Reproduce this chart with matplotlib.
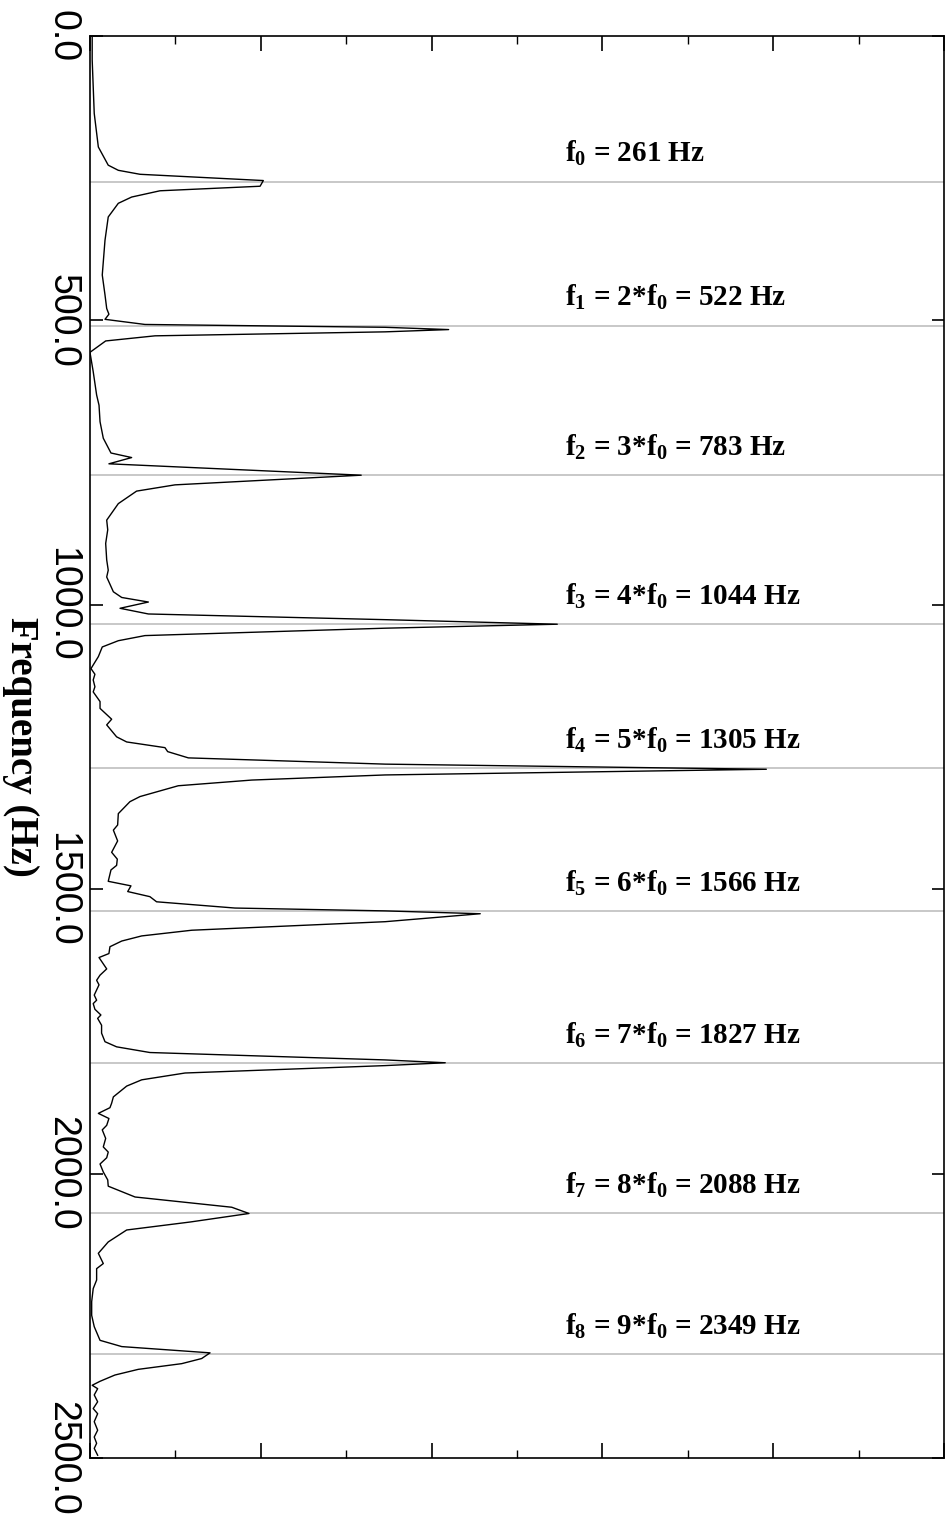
import matplotlib
matplotlib.use("Agg")
import matplotlib.pyplot as plt
from matplotlib.ticker import MultipleLocator

plt.rcParams["mathtext.default"] = "regular"

# spectrum: frequency (Hz) and magnitude (axis units 0..5)
freq_hz = [
    0, 42, 136, 195, 227, 236, 243, 254, 264, 272, 283, 294, 318, 359, 420,
    455, 479, 489, 498, 507, 512, 516, 520, 527, 536, 556, 590, 631, 649, 678,
    707, 733, 741, 752, 772, 789, 800, 822, 851, 868, 892, 921, 939, 951, 977,
    987, 995, 1006, 1016, 1026, 1034, 1041, 1054, 1063, 1074, 1091, 1112, 1122,
    1132, 1144, 1153, 1170, 1182, 1201, 1211, 1232, 1241, 1251, 1258, 1269,
    1280, 1289, 1299, 1308, 1318, 1337, 1346, 1367, 1387, 1396, 1415, 1435,
    1447, 1458, 1466, 1486, 1494, 1504, 1513, 1522, 1533, 1538, 1543, 1557,
    1572, 1582, 1591, 1601, 1613, 1620, 1640, 1651, 1660, 1668, 1686, 1695,
    1701, 1711, 1721, 1727, 1739, 1753, 1768, 1777, 1787, 1800, 1805, 1810,
    1823, 1835, 1846, 1865, 1876, 1884, 1894, 1903, 1915, 1923, 1938, 1953,
    1962, 1972, 1983, 1997, 2011, 2022, 2041, 2059, 2070, 2085, 2099, 2120,
    2140, 2158, 2167, 2187, 2202, 2225, 2249, 2269, 2293, 2304, 2315, 2325,
    2334, 2344, 2354, 2365, 2372, 2378, 2389, 2401, 2413, 2422, 2436, 2451,
    2463, 2474, 2483, 2495,
]
amplitude = [
    0.013, 0.013, 0.025, 0.049, 0.107, 0.166, 0.293, 1.015, 0.996, 0.410,
    0.244, 0.166, 0.107, 0.088, 0.072,
    0.088, 0.098, 0.111, 0.088, 0.322, 1.728, 2.100, 1.728, 0.381, 0.092,
    0.000, 0.019, 0.039, 0.053, 0.059,
    0.078, 0.123, 0.244, 0.111, 1.588, 0.498, 0.273, 0.166, 0.098, 0.104,
    0.092, 0.098, 0.107, 0.098, 0.137,
    0.186, 0.342, 0.176, 0.342, 1.728, 2.736, 1.728, 0.322, 0.166, 0.072,
    0.049, 0.006, 0.029,
    0.019, 0.029, 0.019, 0.059, 0.059, 0.127, 0.098, 0.156, 0.215, 0.439,
    0.455, 0.576,
    1.730, 3.960, 1.728, 0.947, 0.517, 0.293, 0.234, 0.166, 0.162, 0.137,
    0.162, 0.127,
    0.160, 0.156, 0.123, 0.107, 0.240, 0.221, 0.351, 0.390, 0.849, 1.728,
    2.285, 1.728,
    0.596, 0.303, 0.186, 0.117, 0.111, 0.053, 0.098, 0.059, 0.039, 0.053,
    0.025, 0.039,
    0.019, 0.029, 0.064, 0.045, 0.068, 0.068, 0.088, 0.156, 0.351, 1.728,
    2.080, 1.728,
    0.557, 0.303, 0.215, 0.137, 0.127, 0.117, 0.049, 0.111, 0.098, 0.072,
    0.092, 0.078,
    0.107, 0.098, 0.059, 0.078, 0.104, 0.107, 0.264, 0.830, 0.931, 0.586,
    0.215, 0.107,
    0.049, 0.078, 0.039, 0.039, 0.019, 0.010, 0.010, 0.025, 0.059, 0.186,
    0.703, 0.654,
    0.537, 0.283, 0.146, 0.059, 0.013, 0.045, 0.025, 0.045, 0.019, 0.045,
    0.025, 0.045,
    0.025, 0.039, 0.025, 0.045,
]

# grey marker lines as drawn, and the nominal harmonic values in the labels
line_hz = [256, 509, 772, 1034, 1287, 1538, 1806, 2069, 2317]
nominal_hz = [261, 522, 783, 1044, 1305, 1566, 1827, 2088, 2349]
multiplier = [1, 2, 3, 4, 5, 6, 7, 8, 9]
ytick_vals = [0, 500, 1000, 1500, 2000, 2500]

fig = plt.figure(figsize=(9.51, 15.22), dpi=100)
ax = fig.add_axes([0.0946, 0.042, 0.898, 0.9343])

for f in line_hz:
    ax.axhline(f, color="#c4c4c4", lw=1.3, zorder=1)
ax.plot(amplitude, freq_hz, color="black", lw=1.0, zorder=2)

ax.set_xlim(0, 5)
ax.set_ylim(2500, 0)

ax.xaxis.set_major_locator(MultipleLocator(1))
ax.xaxis.set_minor_locator(MultipleLocator(0.5))
ax.tick_params(axis="x", which="major", direction="in", length=11,
               width=1.2, top=True, bottom=True, labelbottom=False)
ax.tick_params(axis="x", which="minor", direction="in", length=6,
               width=1.0, top=True, bottom=True)
ax.set_yticks(ytick_vals)
ax.set_yticklabels([f"{v:.1f}" for v in ytick_vals])
ax.tick_params(axis="y", direction="in", length=9, width=1.2, left=True,
               right=True, pad=7, labelsize=27, labelrotation=-90)
for lab in ax.get_yticklabels():
    lab.set_fontfamily("Liberation Sans")
    lab.set_va("center")

for sp in ax.spines.values():
    sp.set_linewidth(1.2)

for i, (f, hz, m) in enumerate(zip(line_hz, nominal_hz, multiplier)):
    if i == 0:
        txt = f"f$_{i}$ = {hz} Hz"
    else:
        txt = f"f$_{i}$ = {m}*f$_0$ = {hz} Hz"
    ax.annotate(txt, xy=(2.78, f), xytext=(0, 14), textcoords="offset points",
                ha="left", va="baseline", fontsize=21,
                fontfamily="Liberation Serif", fontweight="bold")

fig.text(0.022, 0.509, "Frequency (Hz)", rotation=-90, ha="center",
         va="center", fontsize=28, fontfamily="Liberation Serif",
         fontweight="bold")

fig.savefig("out.png", dpi=100)
